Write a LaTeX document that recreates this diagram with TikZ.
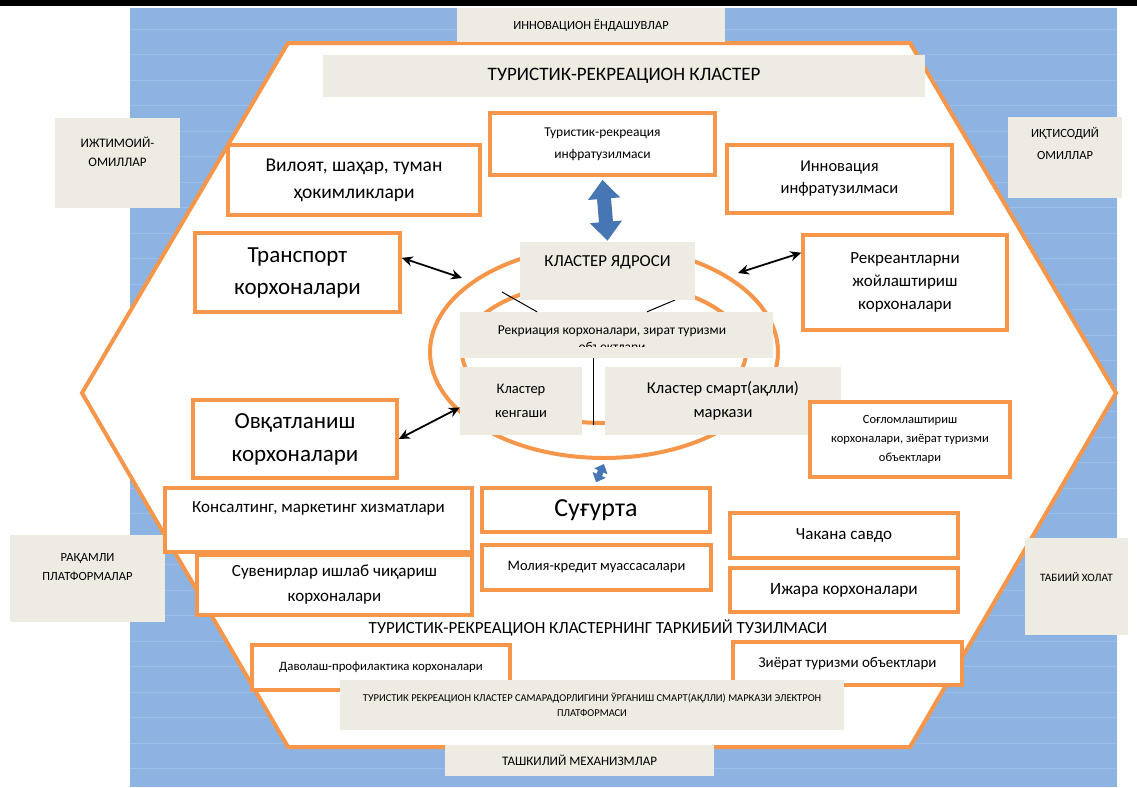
\documentclass[tikz,border=0pt]{standalone}
\usepackage{fontspec}
\setmainfont{Carlito}
\usetikzlibrary{shapes.geometric,arrows.meta,calc}
\definecolor{bgblue}{RGB}{141,179,226}
\definecolor{gridblue}{RGB}{156,190,232}
\definecolor{orng}{RGB}{245,150,75}
\definecolor{paper}{RGB}{237,235,226}
\definecolor{arrblue}{RGB}{70,118,180}
\newcommand\fsz[2]{\fontsize{#1}{#2}\selectfont}
\tikzset{
  obox/.style={draw=orng, line width=3.5pt, fill=white, inner sep=0pt, align=center, text=black},
  gbox/.style={fill=paper, inner sep=0pt, align=center, text=black},
  txt/.style={inner sep=0pt, align=center, text=black},
  link/.style={line width=1.8pt, {Stealth[length=11pt,width=10pt]}-{Stealth[length=11pt,width=10pt]}},
  thinlink/.style={line width=1pt, black},
  bigarrow/.style={arrblue, line width=14pt, {Triangle[width=31pt,length=19pt]}-{Triangle[width=31pt,length=19pt]}},
  smallarrow/.style={arrblue, line width=6pt, {Triangle[width=14pt,length=8pt]}-{Triangle[width=14pt,length=8pt]}},
}
\begin{document}
\begin{tikzpicture}[x=1pt,y=-1pt]
\useasboundingbox (0,0) rectangle (1137,787);
% page, top rule and blue backdrop
\fill[white] (0,0) rectangle (1137,787);
\fill[black] (0,0) rectangle (1137,6);
\fill[bgblue] (130,8) rectangle (1117,787);
\foreach \y in {29,54.5,...,787} \draw[gridblue, line width=0.7pt] (130,\y) -- (1117,\y);

% hexagonal cluster frame
\draw[orng, line width=4pt, fill=white, line join=miter]
  (288,43) -- (910,43) -- (1116,393) -- (910,747) -- (288,747) -- (82,393) -- cycle;

% factors around the frame
\node[gbox, minimum width=268pt, minimum height=34pt, font=\fsz{12.5}{15}] (inno) at (591,25) {ИННОВАЦИОН ЁНДАШУВЛАР};
\node[gbox, minimum width=125pt, minimum height=90pt] (izhbox) at (117.5,163) {};
\node[txt, font=\fsz{13}{19}] (izhtxt) at (117.5,152) {ИЖТИМОИЙ-\\ОМИЛЛАР};
\node[gbox, minimum width=114pt, minimum height=81pt] (iqtbox) at (1065,157.5) {};
\node[txt, font=\fsz{12.5}{22}] (iqttxt) at (1065,144) {ИҚТИСОДИЙ\\ОМИЛЛАР};
\node[gbox, minimum width=155pt, minimum height=87pt] (raqbox) at (87.5,578.5) {};
\node[txt, font=\fsz{12.5}{19}] (raqtxt) at (87.5,567.5) {РАҚАМЛИ\\ПЛАТФОРМАЛАР};
\node[gbox, minimum width=103pt, minimum height=97pt] (tabbox) at (1076.5,586.5) {};
\node[txt, font=\fsz{11.3}{13}] (tabtxt) at (1076.5,577) {ТАБИИЙ ХОЛАТ};
\node[gbox, minimum width=269pt, minimum height=31pt, font=\fsz{13}{15}] (tash) at (579.5,760.5) {ТАШКИЛИЙ МЕХАНИЗМЛАР};

% title
\node[gbox, minimum width=602pt, minimum height=42pt, font=\fsz{19}{22}] (title) at (624,76) {ТУРИСТИК-РЕКРЕАЦИОН КЛАСТЕР};

% cluster core rings
\node[ellipse, draw=orng, line width=4pt, minimum width=348pt, minimum height=212pt, inner sep=0pt] (outer) at (604,352) {};
\node[ellipse, draw=orng, line width=4pt, minimum width=284pt, minimum height=142pt, inner sep=0pt] (inner) at (604,352) {};

% core boxes
\node[gbox, minimum width=313pt, minimum height=46pt] (rek) at (616.5,335) {};
\coordinate (la) at (502,292);
\coordinate (lb) at (675,300);
\coordinate (lv) at (593,425);
\draw[thinlink] (la) -- (537,312 |- rek.north);
\draw[thinlink] (lb) -- (647,312 |- rek.north);
\draw[thinlink] (rek.south -| lv) -- (lv);
\node[gbox, minimum width=175pt, minimum height=58pt] (kya) at (607.5,271) {};
\node[txt, font=\fsz{16.8}{20}] (kyatxt) at (607.5,262) {КЛАСТЕР ЯДРОСИ};
\begin{scope}
  % the second line runs past the text frame and is cut off
  \clip (460,312) rectangle (773,346.5);
  \node[txt, font=\fsz{13.5}{17}] (rektxt) at (612,339.5) {Рекриация корхоналари, зират туризми\\объектлари};
\end{scope}
\node[gbox, minimum width=122pt, minimum height=68pt, font=\fsz{14.5}{24}] (kk) at (521,401) {Кластер\\кенгаши};
\node[gbox, minimum width=236pt, minimum height=68pt, font=\fsz{16.5}{24}] (sm) at (723,401) {Кластер смарт(ақлли)\\маркази};

% surrounding enterprises
\node[obox, minimum width=225pt, minimum height=62pt, font=\fsz{13.5}{22}] (tri) at (602.5,144) {Туристик-рекреация\\инфратузилмаси};
\node[obox, minimum width=252pt, minimum height=70pt, font=\fsz{19.5}{27}] (vil) at (354,180) {Вилоят, шаҳар, туман\\ҳокимликлари};
\node[obox, minimum width=225pt, minimum height=68pt, font=\fsz{16.5}{22}] (inf) at (839.5,179) {Инновация\\инфратузилмаси};
\node[obox, minimum width=205pt, minimum height=79pt, font=\fsz{23}{32}] (tr) at (297.5,272.5) {Транспорт\\корхоналари};
\node[obox, minimum width=204pt, minimum height=95pt, font=\fsz{17}{23}] (rk) at (905,282.5) {Рекреантларни\\жойлаштириш\\корхоналари};
\node[obox, minimum width=204pt, minimum height=78pt, font=\fsz{23}{33}] (ov) at (295,439) {Овқатланиш\\корхоналари};
\node[obox, minimum width=200pt, minimum height=75pt, font=\fsz{12.5}{19}] (sog) at (910,439.5) {Соғломлаштириш\\корхоналари, зиёрат туризми\\объектлари};
\node[obox, minimum width=307pt, minimum height=64pt] (kon) at (318.5,520) {};
\node[txt, font=\fsz{17}{20}] (kontxt) at (318.5,508) {Консалтинг, маркетинг хизматлари};
\node[obox, minimum width=275pt, minimum height=60pt, font=\fsz{17}{25}] (suv) at (334.5,585) {Сувенирлар ишлаб чиқариш\\корхоналари};
\node[obox, minimum width=228pt, minimum height=44pt, font=\fsz{26}{30}] (sug) at (596,510) {Суғурта};
\node[obox, minimum width=229pt, minimum height=45pt, font=\fsz{14.5}{17}] (mol) at (596.5,567.5) {Молия-кредит муассасалари};
\node[obox, minimum width=228pt, minimum height=45pt, font=\fsz{17}{20}] (cha) at (844,535.5) {Чакана савдо};
\node[obox, minimum width=228pt, minimum height=44pt, font=\fsz{17.3}{20}] (ija) at (844,590) {Ижара корхоналари};
\node[txt, font=\fsz{17}{20}] (cap) at (598,628) {ТУРИСТИК-РЕКРЕАЦИОН КЛАСТЕРНИНГ ТАРКИБИЙ ТУЗИЛМАСИ};
\node[obox, minimum width=258pt, minimum height=45pt, font=\fsz{12.8}{15}] (dav) at (381,667.5) {Даволаш-профилактика корхоналари};
\node[obox, minimum width=229pt, minimum height=43pt, font=\fsz{15}{18}] (ziy) at (847.5,663.5) {Зиёрат туризми объектлари};
\node[gbox, minimum width=504pt, minimum height=50pt, font=\fsz{10.5}{15}] (plat) at (592,705) {ТУРИСТИК РЕКРЕАЦИОН КЛАСТЕР САМАРАДОРЛИГИНИ ЎРГАНИШ СМАРТ(АҚЛЛИ) МАРКАЗИ ЭЛЕКТРОН\\ПЛАТФОРМАСИ};

% connectors
\coordinate (t1) at (462,278);
\coordinate (t2) at (738,273);
\draw[link] (tr.8) -- (t1);
\draw[link] (rk.164) -- (t2);
\draw[link] (ov.east) -- (kk.186);
\draw[bigarrow] ([yshift=-3pt]tri.south) -- ([yshift=1pt]kya.north);
\draw[smallarrow] ([yshift=-4pt]outer.south) -- ([yshift=4pt]sug.north);
\end{tikzpicture}
\end{document}
